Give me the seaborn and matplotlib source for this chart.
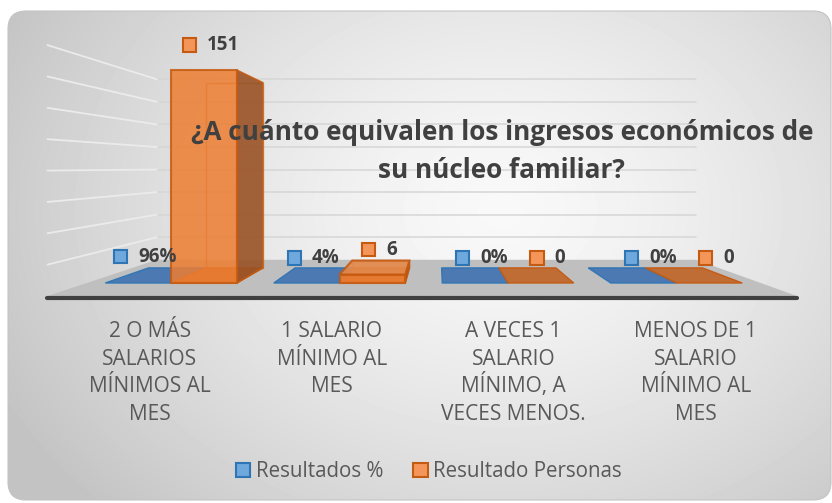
import numpy as np
import pandas as pd
import matplotlib
matplotlib.use("Agg")
import matplotlib.pyplot as plt
import seaborn as sns
from matplotlib.patches import FancyBboxPatch, Polygon, Patch, Rectangle
from matplotlib.offsetbox import AnnotationBbox, DrawingArea, TextArea, HPacker

# ---------------- DATA ----------------
categorias = ["2 O MÁS\nSALARIOS\nMÍNIMOS AL\nMES",
              "1 SALARIO\nMÍNIMO AL\nMES",
              "A VECES 1\nSALARIO\nMÍNIMO, A\nVECES MENOS.",
              "MENOS DE 1\nSALARIO\nMÍNIMO AL\nMES"]
series = ["Resultados %", "Resultado Personas"]
resultados_pct = [96, 4, 0, 0]          # porcentaje
resultado_personas = [151, 6, 0, 0]     # personas
titulo = ["¿A cuánto equivalen los ingresos económicos de", "su núcleo familiar?"]

# ---------------- STYLE ----------------
sns.set_theme(style="white")
plt.rcParams['font.family'] = ['Open Sans', 'DejaVu Sans']

AZUL, NARANJA = "#5B9BD5", "#ED7D31"
AZUL_BORDE, NARANJA_BORDE = "#2E75B6", "#C55A11"
TEXTO = "#595959"
OSCURO = "#404040"

# simple perspective: points move toward a vanishing point as they go back
VP_X, VP_Y = 1.58, 82.3
S_FRONT, S_BAR, S_BACK = 1.112, 0.87, 0.80
X_MIN, X_MAX = -0.5, 3.5


def proj(x, y, s):
    return (VP_X + s * (x - VP_X), VP_Y + s * (y - VP_Y))


fig = plt.figure(figsize=(8.32, 5.03), dpi=100)

# ---------------- BACKGROUND ----------------
bg = fig.add_axes([0, 0, 1, 1], zorder=-10)
bg.set_xlim(0, 832)
bg.set_ylim(503, 0)
bg.axis('off')
yy, xx = np.mgrid[0:503, 0:832]
d = np.sqrt(((xx - 500) / 560.0) ** 2 + ((yy - 210) / 430.0) ** 2)
shade = 0.975 - 0.21 * np.clip(d, 0, 1) ** 1.4
marco = FancyBboxPatch((8, 11), 823, 489, boxstyle="round,pad=0,rounding_size=18",
                       facecolor='none', edgecolor='#c4c4c4', lw=0.8)
bg.add_patch(marco)
img = bg.imshow(shade, cmap='gray', vmin=0, vmax=1, extent=(0, 832, 503, 0),
                aspect='auto', interpolation='bilinear')
img.set_clip_path(marco)

# ---------------- MAIN AXES ----------------
ax = fig.add_axes([30 / 832, 203 / 503, 780 / 832, 270 / 503])
ax.set_facecolor('none')

df = pd.DataFrame({
    'categoria': categorias * 2,
    'serie': [series[0]] * 4 + [series[1]] * 4,
    'valor': [v / 100 for v in resultados_pct] + resultado_personas,
})
sns.barplot(data=df, x='categoria', y='valor', hue='serie', hue_order=series,
            palette=[AZUL, NARANJA], width=0.78, saturation=1, legend=False, ax=ax)

ax.set_xlim((30 - 171) / 168.5, (810 - 171) / 168.5)
ax.set_ylim((283 - 300) / 1.41, (283 - 30) / 1.41)
sns.despine(ax=ax, left=True, bottom=True)
ax.set_xlabel('')
ax.set_ylabel('')
ax.set_yticks([])
ax.set_xticks([])

# floor and walls
piso = [proj(X_MIN, 0, S_FRONT), proj(X_MAX, 0, S_FRONT),
        proj(X_MAX, 0, S_BACK), proj(X_MIN, 0, S_BACK)]
ax.add_patch(Polygon(piso, closed=True, facecolor='#bfbfbf', edgecolor='none',
                     zorder=1, clip_on=False))
p0, p1 = proj(X_MIN, 0, S_FRONT), proj(X_MAX, 0, S_FRONT)
ax.plot([p0[0], p1[0]], [p0[1] - 1.2, p1[1] - 1.2], color=OSCURO, lw=3,
        solid_capstyle='round', zorder=1.5, clip_on=False)
for v in range(20, 161, 20):
    a, b = proj(X_MIN, v, S_BACK), proj(X_MAX, v, S_BACK)
    ax.plot([a[0], b[0]], [a[1], b[1]], color='#d6d6d6', lw=1.1, zorder=0.5, clip_on=False)
    c = proj(X_MIN, v, S_FRONT)
    ax.plot([c[0], a[0]], [c[1], a[1]], color='#ebebeb', lw=1.3, zorder=0.5, clip_on=False)

# ---------------- 3D BARS ----------------
estilos = [
    dict(fill=AZUL, edge=AZUL_BORDE, side='#3f6fa8', foot='#4676b2'),
    dict(fill=NARANJA, edge=NARANJA_BORDE, side='#9a5225', foot='#c0692c'),
]
for cont, st in zip(ax.containers, estilos):
    for bar in cont:
        x0 = bar.get_x()
        x1 = x0 + bar.get_width()
        h = bar.get_height()
        base = [proj(x0, 0, 1), proj(x1, 0, 1), proj(x1, 0, S_BAR), proj(x0, 0, S_BAR)]
        ax.add_patch(Polygon(base, closed=True, facecolor=st['foot'], edgecolor=st['edge'],
                             lw=1.0, alpha=0.95, zorder=2, clip_on=False))
        bar.set_facecolor(st['fill'])
        bar.set_alpha(0.85)
        bar.set_edgecolor(st['edge'])
        bar.set_linewidth(1.5)
        bar.set_zorder(4)
        bar.set_clip_on(False)
        if h < 2:
            bar.set_visible(False)
            continue
        # back outline seen through the face
        atras = [proj(x0, 0, S_BAR), proj(x1, 0, S_BAR), proj(x1, h, S_BAR), proj(x0, h, S_BAR)]
        ax.add_patch(Polygon(atras, closed=True, facecolor='none', edgecolor=st['edge'],
                             lw=1.0, alpha=0.6, zorder=2.6, clip_on=False))
        xs = x1 if x1 < VP_X else x0
        lado = [proj(xs, 0, 1), proj(xs, h, 1), proj(xs, h, S_BAR), proj(xs, 0, S_BAR)]
        ax.add_patch(Polygon(lado, closed=True, facecolor=st['side'], edgecolor=st['edge'],
                             lw=1.2, alpha=0.9, zorder=3, clip_on=False))
        if h < VP_Y:
            tapa = [proj(x0, h, 1), proj(x1, h, 1), proj(x1, h, S_BAR), proj(x0, h, S_BAR)]
            ax.add_patch(Polygon(tapa, closed=True, facecolor='#e58a4c', edgecolor=st['edge'],
                                 lw=1.5, alpha=0.9, zorder=3.5, clip_on=False))

# ---------------- DATA LABELS ----------------
etiquetas = [[f"{v}%" for v in resultados_pct], [str(v) for v in resultado_personas]]
cuadros = [('#6FA8DC', AZUL_BORDE), ('#F4955A', NARANJA_BORDE)]
for cont, textos, (fc, ec) in zip(ax.containers, etiquetas, cuadros):
    for bar, txt in zip(cont, textos):
        da = DrawingArea(9.5, 9.5, 0, 0)
        da.add_artist(Rectangle((0, 0), 9.5, 9.5, facecolor=fc, edgecolor=ec, lw=1.5))
        ta = TextArea(txt, textprops=dict(color=OSCURO, fontsize=13.5, fontweight='bold'))
        box = HPacker(children=[da, ta], align='center', pad=0, sep=8)
        cx = bar.get_x() + bar.get_width() / 2
        ab = AnnotationBbox(box, (cx, bar.get_height()), xybox=(5, 18),
                            xycoords='data', boxcoords='offset points',
                            box_alignment=(0.5, 0.5), frameon=False, zorder=6,
                            annotation_clip=False)
        ax.add_artist(ab)

# ---------------- CATEGORY LABELS ----------------
centros = [proj(i, 0, 1.08)[0] for i in range(len(categorias))]
for cx, cat in zip(centros, categorias):
    for j, linea in enumerate(cat.split('\n')):
        ax.annotate(linea, xy=(cx, 0), xycoords=('data', 'axes fraction'),
                    xytext=(0, -26.6 - 19.9 * j), textcoords='offset points',
                    ha='center', va='baseline', fontsize=15, color=TEXTO,
                    annotation_clip=False)

# ---------------- TITLE AND LEGEND ----------------
fig.text(0.604, 0.7217, titulo[0], ha='center', va='baseline', fontsize=18.8,
         fontweight='bold', color=OSCURO, zorder=10)
fig.text(0.603, 0.6461, titulo[1], ha='center', va='baseline', fontsize=18.8,
         fontweight='bold', color=OSCURO, zorder=10)

handles = [Patch(facecolor='#6FA8DC', edgecolor=AZUL_BORDE, lw=1.5),
           Patch(facecolor='#F4955A', edgecolor=NARANJA_BORDE, lw=1.5)]
fig.legend(handles, series, loc='center', bbox_to_anchor=(0.515, 0.062), ncol=2,
           frameon=False, fontsize=14.8, labelcolor=TEXTO, handlelength=0.72,
           handleheight=0.72, handletextpad=0.25, columnspacing=1.45)

fig.savefig("out.png", dpi=100)
